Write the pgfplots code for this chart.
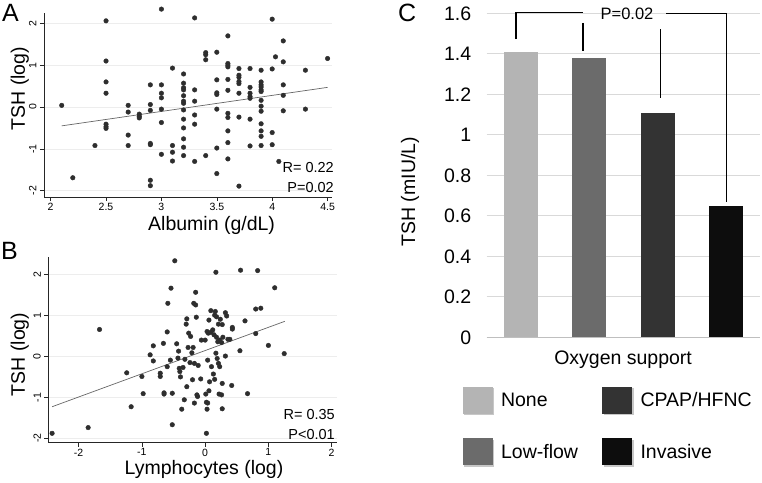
\documentclass[border=0pt]{standalone}
\usepackage{fontspec}
\setmainfont{Liberation Sans}
\usepackage{pgfplots}
\pgfplotsset{compat=1.18}

\definecolor{cNone}{HTML}{B4B4B4}
\definecolor{cLow}{HTML}{6B6B6B}
\definecolor{cCpap}{HTML}{333333}
\definecolor{cInv}{HTML}{0D0D0D}
\definecolor{dotc}{HTML}{2E2E2E}

\pgfplotsset{
  stata/.style={
    scale only axis,
    axis lines*=left,
    axis line style={black!85, line width=0.6pt},
    tick style={black!85, line width=0.6pt},
    tick align=outside,
    major tick length=4pt,
    ymajorgrids,
    grid style={black!7, line width=0.6pt},
    ticklabel style={font=\fontsize{10.5}{12}\selectfont},
    xticklabel style={yshift=1.5pt},
    yticklabel style={rotate=90, anchor=south},
    label style={font=\fontsize{19.5}{22}\selectfont},
    /pgf/number format/assume math mode=true,
    clip=false,
  },
  dots/.style={only marks, mark=*, mark size=2.3pt, color=dotc},
  fit/.style={no marks, color=black!60, line width=0.7pt},
}

\begin{document}
\begin{tikzpicture}[x=1pt,y=1pt]
\useasboundingbox (0,0) rectangle (762,-482);

% panel A
\begin{axis}[stata,
  at={(44pt,-197pt)}, width=288pt, height=183.7pt,
  xmin=1.94, xmax=4.54, ymin=-2.15, ymax=2.24,
  xtick={2,2.5,3,3.5,4,4.5}, ytick={-2,-1,0,1,2},
  xlabel={Albumin (g/dL)}, ylabel={TSH (log)},
  xlabel style={at={(axis description cs:0.582,0)}, anchor=base, yshift=-33pt},
  ylabel style={at={(axis description cs:-0.066,0.59)}, anchor=base},
]
\addplot[dots] coordinates {
(2.1,0.04)(2.2,-1.69)(2.4,-0.92)
(2.5,2.06)(2.5,1.10)(2.5,0.60)(2.5,0.33)(2.5,-0.41)(2.5,-0.47)(2.5,-0.51)
(2.7,0.04)(2.7,-0.12)(2.7,-0.67)(2.7,-0.92)
(2.8,-0.17)(2.8,-0.22)(2.8,-0.26)
(2.9,0.53)(2.9,0.06)(2.9,-0.08)(2.9,-0.87)(2.9,-0.90)(2.9,-1.75)(2.9,-1.88)
(3.0,2.34)(3.0,0.53)(3.0,0.33)(3.0,0.22)(3.0,-0.05)(3.0,-0.37)(3.0,-1.13)
(3.1,0.93)(3.1,-0.92)(3.1,-1.08)(3.1,-1.29)
(3.2,0.79)(3.2,0.57)(3.2,0.46)(3.2,0.41)(3.2,0.27)(3.2,0.14)(3.2,0.09)(3.2,-0.07)
(3.2,-0.29)(3.2,-0.50)(3.2,-0.76)(3.2,-0.96)(3.2,-1.16)
(3.3,2.13)(3.3,0.41)(3.3,0.14)(3.3,-0.19)(3.3,-0.41)(3.3,-1.30)
(3.4,1.30)(3.4,1.25)(3.4,1.13)(3.4,-1.16)
(3.5,1.31)(3.5,0.65)(3.5,0.34)(3.5,0.30)(3.5,-0.05)(3.5,-0.98)(3.5,-1.59)
(3.6,1.70)(3.6,1.04)(3.6,1.00)(3.6,0.96)(3.6,0.66)(3.6,0.40)(3.6,-0.15)(3.6,-0.25)
(3.6,-0.57)(3.6,-0.85)(3.6,-1.24)
(3.7,0.92)(3.7,0.76)(3.7,0.71)(3.7,0.61)(3.7,0.56)(3.7,0.33)(3.7,-0.24)(3.7,-1.89)
(3.8,0.92)(3.8,0.47)(3.8,0.33)(3.8,0.25)(3.8,0.21)(3.8,-0.29)(3.8,-0.93)
(3.9,0.88)(3.9,0.60)(3.9,0.53)(3.9,0.48)(3.9,0.41)(3.9,0.37)(3.9,0.16)(3.9,0.02)
(3.9,-0.10)(3.9,-0.40)(3.9,-0.57)(3.9,-0.70)(3.9,-0.92)
(4.0,2.10)(4.0,0.91)(4.0,-0.61)(4.0,-0.90)(4.03,1.20)(4.06,-1.30)
(4.1,1.58)(4.1,1.08)(4.1,0.53)(4.1,0.28)(4.1,-0.09)
(4.3,0.88)(4.3,-0.05)(4.5,1.16)
};
\addplot[fit] coordinates {(2.1,-0.45) (4.5,0.47)};
\end{axis}

% panel B
\begin{axis}[stata,
  at={(48.3pt,-442.7pt)}, width=288.4pt, height=186pt,
  xmin=-2.48, xmax=2.08, ymin=-2.11, ymax=2.44,
  xtick={-2,-1,0,1,2}, ytick={-2,-1,0,1,2},
  xlabel={Lymphocytes (log)}, ylabel={TSH (log)},
  xlabel style={at={(axis description cs:0.54,0)}, anchor=base, yshift=-32pt},
  ylabel style={at={(axis description cs:-0.081,0.475)}, anchor=base},
]
\addplot[dots] coordinates {
(-2.42,-1.88)(-1.85,-1.74)(-1.67,0.66)(-1.24,-0.40)(-1.17,-1.23)(-1.00,-0.49)
(-0.98,-0.91)(-0.87,0.04)(-0.82,0.26)(-0.82,-0.11)(-0.71,-0.41)(-0.71,-0.49)
(-0.66,0.32)(-0.65,-0.89)(-0.65,-0.92)(-0.60,0.60)(-0.60,-0.25)(-0.59,1.30)
(-0.55,-0.09)(-0.54,1.67)(-0.52,-0.90)(-0.52,-1.67)(-0.48,2.34)(-0.45,0.31)
(-0.43,-0.04)(-0.42,0.13)(-0.41,-0.29)(-0.40,-0.37)(-0.39,-0.50)(-0.37,-1.29)
(-0.35,-0.27)(-0.33,-1.06)(-0.32,-0.07)(-0.30,0.79)(-0.29,0.92)(-0.29,-0.74)
(-0.27,0.22)(-0.26,0.57)(-0.24,-0.15)(-0.23,0.49)(-0.21,0.09)(-0.20,-0.57)
(-0.19,0.22)(-0.18,1.30)(-0.17,-1.14)(-0.17,-0.17)(-0.15,1.57)(-0.15,1.26)
(-0.14,0.96)(-0.13,-0.94)(-0.12,-0.98)(-0.11,-0.22)(-0.07,-0.55)(-0.06,0.40)
(0.00,0.40)(0.01,-0.92)(0.02,-1.88)(0.02,-1.12)(0.03,-1.29)(0.03,0.61)
(0.04,-0.09)(0.04,-1.14)(0.05,0.57)(0.06,0.89)(0.06,-0.84)(0.07,-0.62)
(0.09,1.12)(0.09,0.59)(0.10,-0.25)(0.12,0.65)(0.13,-0.43)(0.14,0.53)
(0.15,-0.56)(0.15,1.01)(0.16,1.10)(0.17,0.08)(0.17,2.06)(0.18,0.97)
(0.18,0.47)(0.19,-0.05)(0.20,0.36)(0.21,-0.17)(0.21,0.79)(0.22,-0.92)
(0.23,-0.25)(0.23,0.40)(0.24,0.91)(0.26,0.34)(0.26,-0.94)(0.27,-0.66)
(0.27,-1.28)(0.27,0.78)(0.28,0.47)(0.32,0.01)(0.32,1.07)(0.34,0.99)
(0.36,0.42)(0.39,0.42)(0.42,-0.71)(0.43,0.67)(0.43,0.71)(0.56,2.11)
(0.55,0.14)(0.63,0.87)(0.67,-0.91)(0.80,0.56)(0.80,1.16)(0.83,2.10)
(0.88,1.18)(1.00,0.27)(1.10,1.68)(1.25,0.07)
};
\addplot[fit] coordinates {(-2.42,-1.23) (1.26,0.86)};
\end{axis}

% panel C
\begin{axis}[
  scale only axis,
  at={(486.7pt,-337.3pt)}, width=273.3pt, height=324pt,
  xmin=0.5, xmax=4.5, ymin=0, ymax=1.6,
  axis lines*=left,
  y axis line style={draw=none},
  x axis line style={draw=black!25, line width=1pt},
  xtick=\empty, ytick={0,0.2,0.4,0.6,0.8,1,1.2,1.4,1.6},
  major tick length=0pt,
  ymajorgrids, grid style={black!15, line width=0.8pt},
  ticklabel style={font=\fontsize{19.5}{22}\selectfont},
  yticklabel style={xshift=-12pt},
  /pgf/number format/assume math mode=true,
  label style={font=\fontsize{19.5}{22}\selectfont},
  xlabel={Oxygen support}, ylabel={TSH (mIU/L)},
  xlabel style={at={(axis description cs:0.499,0)}, anchor=base, yshift=-27pt},
  ylabel style={at={(axis description cs:-0.262,0.449)}, anchor=base},
  clip=false,
  ybar,
  legend image code/.code={
    \fill[black!22] (1.5pt,-15pt) rectangle (31.5pt,12pt);
    \fill[#1] (0pt,-13.5pt) rectangle (30pt,13.5pt);},
  legend columns=2,
  legend cell align=left,
  legend style={at={(-0.1,-0.146)}, anchor=north west, draw=none, fill=none,
    font=\fontsize{19.5}{22}\selectfont, row sep=23pt,
    /tikz/every odd column/.append style={column sep=5pt},
    /tikz/every even column/.append style={column sep=22pt}},
]
\addplot[bar width=34pt, bar shift=0pt, fill=cNone, draw=none] coordinates {(1,1.41)};
\addlegendentry{None}
\addplot[bar width=34pt, bar shift=0pt, fill=cCpap, draw=none] coordinates {(3,1.11)};
\addlegendentry{CPAP/HFNC}
\addplot[bar width=34pt, bar shift=0pt, fill=cLow, draw=none] coordinates {(2,1.38)};
\addlegendentry{Low-flow}
\addplot[bar width=34pt, bar shift=0pt, fill=cInv, draw=none] coordinates {(4,0.65)};
\addlegendentry{Invasive}
\draw[black, line width=1.4pt] (axis cs:0.926,1.473) |- (axis cs:1.907,1.605);
\draw[black, line width=1.4pt] (axis cs:1.907,1.553) -- (axis cs:1.907,1.415);
\draw[black, line width=1.4pt] (axis cs:3.04,1.521) -- (axis cs:3.04,1.18);
\draw[black, line width=1.4pt] (axis cs:3.13,1.6) -| (axis cs:4.01,0.67);
\node[font=\fontsize{16.5}{18}\selectfont] at (axis cs:2.554,1.597) {P=0.02};
\end{axis}

% annotations
\node[anchor=base west, inner sep=0pt, font=\fontsize{25}{28}\selectfont] at (2,-21.7) {A};
\node[anchor=base west, inner sep=0pt, font=\fontsize{25}{28}\selectfont] at (1,-259.3) {B};
\node[anchor=base west, inner sep=0pt, font=\fontsize{25}{28}\selectfont] at (398,-21.7) {C};
\node[anchor=base east, inner sep=0pt, font=\fontsize{14.5}{16}\selectfont] at (334,-172.3) {R= 0.22};
\node[anchor=base east, inner sep=0pt, font=\fontsize{14.5}{16}\selectfont] at (334,-192.8) {P=0.02};
\node[anchor=base east, inner sep=0pt, font=\fontsize{14.5}{16}\selectfont] at (335,-419.8) {R= 0.35};
\node[anchor=base east, inner sep=0pt, font=\fontsize{14.5}{16}\selectfont] at (335,-439.3) {P<0.01};
\end{tikzpicture}
\end{document}
